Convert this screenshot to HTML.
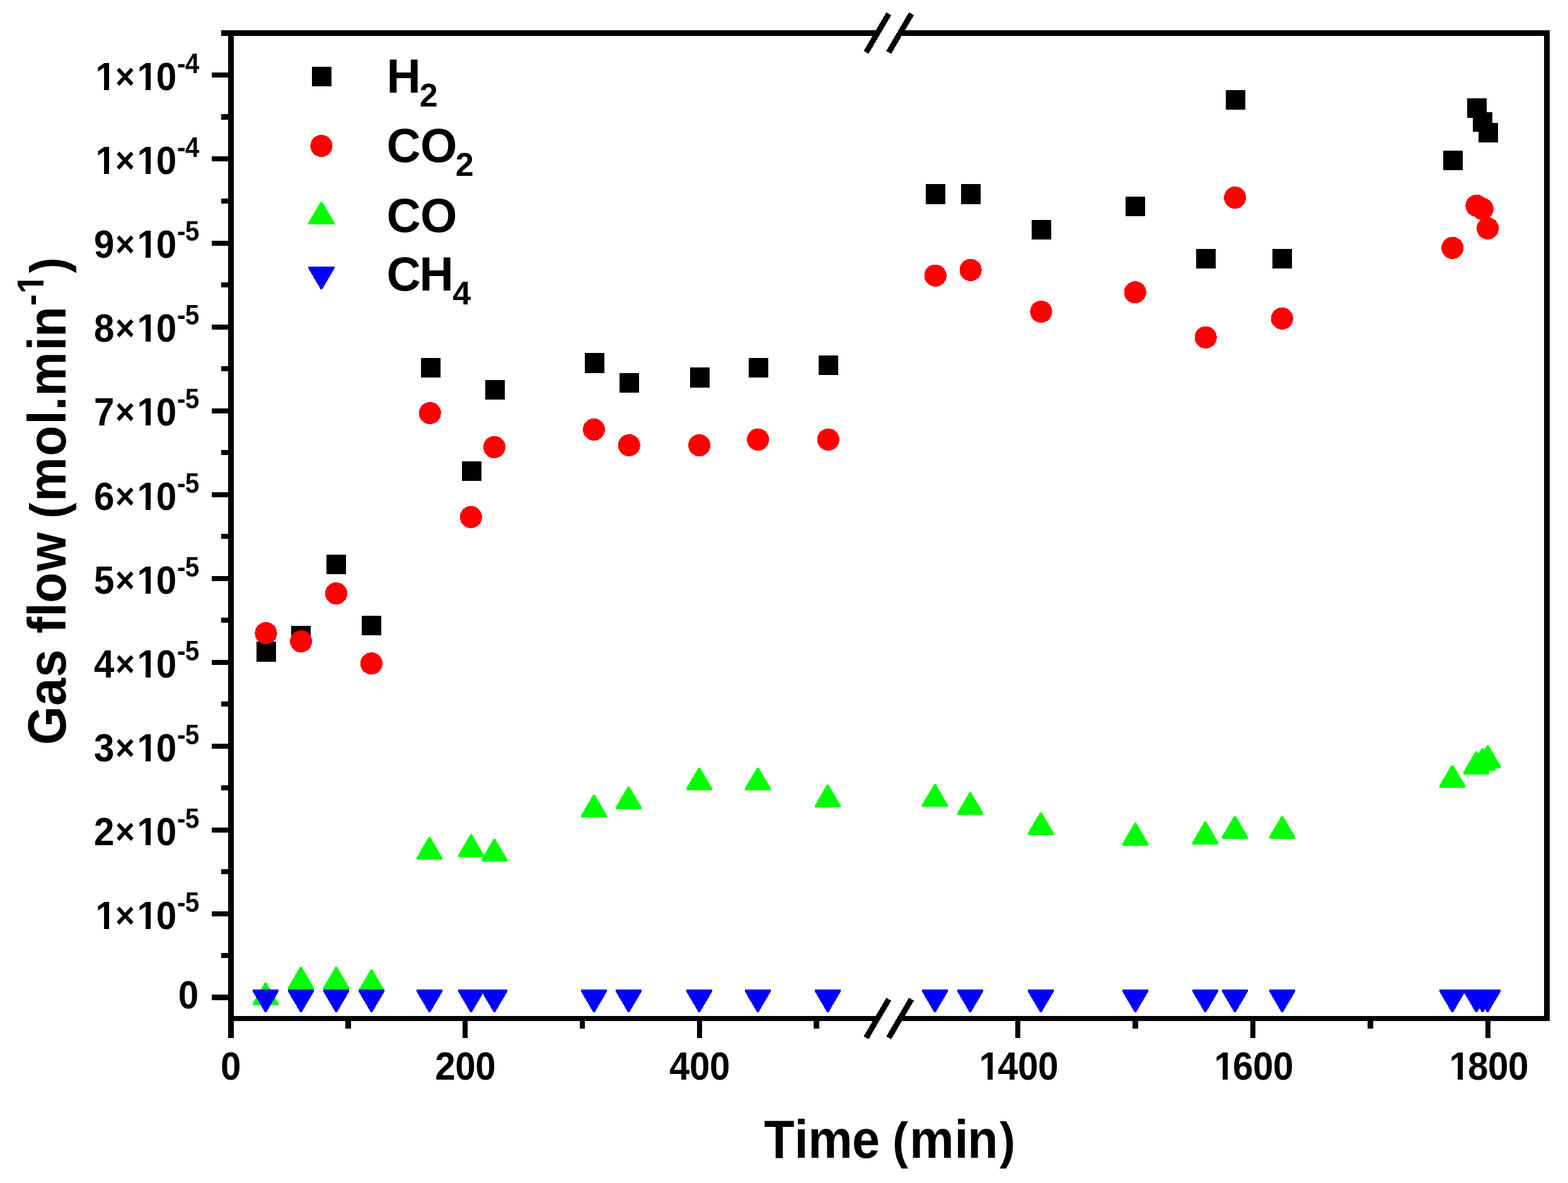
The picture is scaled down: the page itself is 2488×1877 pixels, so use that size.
<!DOCTYPE html>
<html lang="en"><head><meta charset="utf-8"><title>Gas flow vs time</title>
<style>
html,body{margin:0;padding:0;background:#fff}
body{width:2488px;height:1877px}
svg{display:block}
text{font-family:"Liberation Sans",sans-serif;font-weight:700;fill:#000;white-space:pre}
</style></head><body>
<svg width="2488" height="1877" viewBox="0 0 2488 1877" role="img" aria-label="Gas flow versus time">
<rect width="2488" height="1877" fill="#fff"/>
<g shape-rendering="crispEdges">
<rect x="362" y="48" width="9" height="1599" fill="#000"/>
<rect x="2450" y="48" width="9" height="1572" fill="#000"/>
<rect x="351" y="48" width="1041.3" height="9" fill="#000"/>
<rect x="1428.2" y="48" width="1030.8" height="9" fill="#000"/>
<rect x="362" y="1612" width="1030.3" height="8" fill="#000"/>
<rect x="1428.2" y="1612" width="1030.8" height="8" fill="#000"/>
<rect x="336" y="1578" width="26" height="9" fill="#000"/>
<rect x="336" y="1446" width="26" height="8" fill="#000"/>
<rect x="336" y="1313" width="26" height="8" fill="#000"/>
<rect x="336" y="1180" width="26" height="8" fill="#000"/>
<rect x="336" y="1047" width="26" height="8" fill="#000"/>
<rect x="336" y="914" width="26" height="8" fill="#000"/>
<rect x="336" y="781" width="26" height="8" fill="#000"/>
<rect x="336" y="648" width="26" height="8" fill="#000"/>
<rect x="336" y="515" width="26" height="8" fill="#000"/>
<rect x="336" y="382" width="26" height="8" fill="#000"/>
<rect x="336" y="248" width="26" height="8" fill="#000"/>
<rect x="336" y="115" width="26" height="8" fill="#000"/>
<rect x="351" y="1512" width="11" height="8" fill="#000"/>
<rect x="351" y="1379" width="11" height="8" fill="#000"/>
<rect x="351" y="1246" width="11" height="8" fill="#000"/>
<rect x="351" y="1113" width="11" height="8" fill="#000"/>
<rect x="351" y="980" width="11" height="8" fill="#000"/>
<rect x="351" y="847" width="11" height="8" fill="#000"/>
<rect x="351" y="714" width="11" height="8" fill="#000"/>
<rect x="351" y="581" width="11" height="8" fill="#000"/>
<rect x="351" y="448" width="11" height="8" fill="#000"/>
<rect x="351" y="315" width="11" height="8" fill="#000"/>
<rect x="351" y="181" width="11" height="9" fill="#000"/>
<rect x="734" y="1620" width="8" height="27" fill="#000"/>
<rect x="1106" y="1620" width="8" height="27" fill="#000"/>
<rect x="1611" y="1620" width="8" height="27" fill="#000"/>
<rect x="1984" y="1620" width="8" height="27" fill="#000"/>
<rect x="2357" y="1620" width="8" height="27" fill="#000"/>
<rect x="548" y="1620" width="9" height="12" fill="#000"/>
<rect x="920" y="1620" width="8" height="12" fill="#000"/>
<rect x="1291" y="1620" width="9" height="12" fill="#000"/>
<rect x="1797" y="1620" width="9" height="12" fill="#000"/>
<rect x="2170" y="1620" width="9" height="12" fill="#000"/>
</g>
<line x1="1374.3" y1="83.1" x2="1410.3" y2="21.9" stroke="#000" stroke-width="9" shape-rendering="crispEdges"/>
<line x1="1410.2" y1="83.1" x2="1446.2" y2="21.9" stroke="#000" stroke-width="9" shape-rendering="crispEdges"/>
<line x1="1374.3" y1="1646.6" x2="1410.3" y2="1585.4" stroke="#000" stroke-width="9" shape-rendering="crispEdges"/>
<line x1="1410.2" y1="1646.6" x2="1446.2" y2="1585.4" stroke="#000" stroke-width="9" shape-rendering="crispEdges"/>
<g fill="#000" shape-rendering="crispEdges">
<rect x="407" y="1018" width="31" height="32"/>
<rect x="462" y="993" width="31" height="31"/>
<rect x="518" y="880" width="31" height="31"/>
<rect x="574" y="977" width="31" height="31"/>
<rect x="668" y="568" width="31" height="31"/>
<rect x="733" y="732" width="31" height="31"/>
<rect x="770" y="603" width="31" height="31"/>
<rect x="928" y="560" width="31" height="32"/>
<rect x="983" y="592" width="31" height="31"/>
<rect x="1095" y="583" width="31" height="32"/>
<rect x="1188" y="568" width="31" height="31"/>
<rect x="1299" y="564" width="31" height="31"/>
<rect x="1469" y="292" width="31" height="32"/>
<rect x="1525" y="292" width="31" height="32"/>
<rect x="1637" y="349" width="31" height="31"/>
<rect x="1786" y="312" width="31" height="31"/>
<rect x="1898" y="395" width="31" height="31"/>
<rect x="1945" y="143" width="31" height="31"/>
<rect x="2019" y="395" width="31" height="31"/>
<rect x="2290" y="239" width="31" height="31"/>
<rect x="2328" y="156" width="31" height="31"/>
<rect x="2337" y="178" width="31" height="31"/>
<rect x="2346" y="195" width="31" height="31"/>
</g><g fill="#f00" shape-rendering="crispEdges">
<circle cx="422.0" cy="1004.6" r="17.6"/>
<circle cx="477.7" cy="1017.6" r="17.6"/>
<circle cx="533.5" cy="941.6" r="17.6"/>
<circle cx="589.3" cy="1052.7" r="17.6"/>
<circle cx="682.2" cy="655.4" r="17.6"/>
<circle cx="747.3" cy="820.4" r="17.6"/>
<circle cx="784.4" cy="709.4" r="17.6"/>
<circle cx="942.4" cy="681.5" r="17.6"/>
<circle cx="998.2" cy="706.5" r="17.6"/>
<circle cx="1109.7" cy="706.5" r="17.6"/>
<circle cx="1202.7" cy="697.4" r="17.6"/>
<circle cx="1314.2" cy="697.4" r="17.6"/>
<circle cx="1484.2" cy="437.2" r="17.6"/>
<circle cx="1540.1" cy="428.4" r="17.6"/>
<circle cx="1652.0" cy="494.5" r="17.6"/>
<circle cx="1801.2" cy="463.8" r="17.6"/>
<circle cx="1913.1" cy="535.3" r="17.6"/>
<circle cx="1959.7" cy="313.5" r="17.6"/>
<circle cx="2034.3" cy="505.3" r="17.6"/>
<circle cx="2304.8" cy="393.3" r="17.6"/>
<circle cx="2343.0" cy="326.4" r="17.6"/>
<circle cx="2352.3" cy="331.5" r="17.6"/>
<circle cx="2360.7" cy="362.3" r="17.6"/>
</g><g shape-rendering="crispEdges">
<path d="M400.9 1595.3L400.9 1592.0L420.3 1559.0L422.7 1559.0L442.1 1592.0L442.1 1595.3Z" fill="#0f0"/>
<path d="M456.9 1570.3L456.9 1567.0L476.3 1534.0L478.7 1534.0L498.1 1567.0L498.1 1570.3Z" fill="#0f0"/>
<path d="M512.9 1570.3L512.9 1567.0L532.3 1534.0L534.7 1534.0L554.1 1567.0L554.1 1570.3Z" fill="#0f0"/>
<path d="M568.9 1574.3L568.9 1571.0L588.3 1538.0L590.7 1538.0L610.1 1571.0L610.1 1574.3Z" fill="#0f0"/>
<path d="M660.9 1364.3L660.9 1361.0L680.3 1328.0L682.7 1328.0L702.1 1361.0L702.1 1364.3Z" fill="#0f0"/>
<path d="M726.9 1360.3L726.9 1357.0L746.3 1324.0L748.7 1324.0L768.1 1357.0L768.1 1360.3Z" fill="#0f0"/>
<path d="M763.9 1367.1L763.9 1363.8L783.3 1330.8L785.7 1330.8L805.1 1363.8L805.1 1367.1Z" fill="#0f0"/>
<path d="M921.9 1297.0L921.9 1293.7L941.3 1260.7L943.7 1260.7L963.1 1293.7L963.1 1297.0Z" fill="#0f0"/>
<path d="M976.9 1284.1L976.9 1280.8L996.3 1247.8L998.7 1247.8L1018.1 1280.8L1018.1 1284.1Z" fill="#0f0"/>
<path d="M1088.9 1254.2L1088.9 1250.9L1108.3 1217.9L1110.7 1217.9L1130.1 1250.9L1130.1 1254.2Z" fill="#0f0"/>
<path d="M1181.9 1254.2L1181.9 1250.9L1201.3 1217.9L1203.7 1217.9L1223.1 1250.9L1223.1 1254.2Z" fill="#0f0"/>
<path d="M1292.9 1281.3L1292.9 1278.0L1312.3 1245.0L1314.7 1245.0L1334.1 1278.0L1334.1 1281.3Z" fill="#0f0"/>
<path d="M1462.9 1280.3L1462.9 1277.0L1482.3 1244.0L1484.7 1244.0L1504.1 1277.0L1504.1 1280.3Z" fill="#0f0"/>
<path d="M1518.9 1293.2L1518.9 1289.9L1538.3 1256.9L1540.7 1256.9L1560.1 1289.9L1560.1 1293.2Z" fill="#0f0"/>
<path d="M1630.9 1325.1L1630.9 1321.8L1650.3 1288.8L1652.7 1288.8L1672.1 1321.8L1672.1 1325.1Z" fill="#0f0"/>
<path d="M1780.9 1341.7L1780.9 1338.4L1800.3 1305.4L1802.7 1305.4L1822.1 1338.4L1822.1 1341.7Z" fill="#0f0"/>
<path d="M1891.9 1339.6L1891.9 1336.3L1911.3 1303.3L1913.7 1303.3L1933.1 1336.3L1933.1 1339.6Z" fill="#0f0"/>
<path d="M1938.9 1330.8L1938.9 1327.5L1958.3 1294.5L1960.7 1294.5L1980.1 1327.5L1980.1 1330.8Z" fill="#0f0"/>
<path d="M2013.9 1330.8L2013.9 1327.5L2033.3 1294.5L2035.7 1294.5L2055.1 1327.5L2055.1 1330.8Z" fill="#0f0"/>
<path d="M2283.9 1249.9L2283.9 1246.6L2303.3 1213.6L2305.7 1213.6L2325.1 1246.6L2325.1 1249.9Z" fill="#0f0"/>
<path d="M2321.9 1228.6L2321.9 1225.3L2341.3 1192.3L2343.7 1192.3L2363.1 1225.3L2363.1 1228.6Z" fill="#0f0"/>
<path d="M2331.9 1222.9L2331.9 1219.6L2351.3 1186.6L2353.7 1186.6L2373.1 1219.6L2373.1 1222.9Z" fill="#0f0"/>
<path d="M2339.9 1218.5L2339.9 1215.2L2359.3 1182.2L2361.7 1182.2L2381.1 1215.2L2381.1 1218.5Z" fill="#0f0"/>
<path d="M400.9 1569.7L400.9 1573.0L420.3 1606.0L422.7 1606.0L442.1 1573.0L442.1 1569.7Z" fill="#00f"/>
<path d="M456.9 1569.7L456.9 1573.0L476.3 1606.0L478.7 1606.0L498.1 1573.0L498.1 1569.7Z" fill="#00f"/>
<path d="M512.9 1569.7L512.9 1573.0L532.3 1606.0L534.7 1606.0L554.1 1573.0L554.1 1569.7Z" fill="#00f"/>
<path d="M568.9 1569.7L568.9 1573.0L588.3 1606.0L590.7 1606.0L610.1 1573.0L610.1 1569.7Z" fill="#00f"/>
<path d="M660.9 1569.7L660.9 1573.0L680.3 1606.0L682.7 1606.0L702.1 1573.0L702.1 1569.7Z" fill="#00f"/>
<path d="M726.9 1569.7L726.9 1573.0L746.3 1606.0L748.7 1606.0L768.1 1573.0L768.1 1569.7Z" fill="#00f"/>
<path d="M763.9 1569.7L763.9 1573.0L783.3 1606.0L785.7 1606.0L805.1 1573.0L805.1 1569.7Z" fill="#00f"/>
<path d="M921.9 1569.7L921.9 1573.0L941.3 1606.0L943.7 1606.0L963.1 1573.0L963.1 1569.7Z" fill="#00f"/>
<path d="M976.9 1569.7L976.9 1573.0L996.3 1606.0L998.7 1606.0L1018.1 1573.0L1018.1 1569.7Z" fill="#00f"/>
<path d="M1088.9 1569.7L1088.9 1573.0L1108.3 1606.0L1110.7 1606.0L1130.1 1573.0L1130.1 1569.7Z" fill="#00f"/>
<path d="M1181.9 1569.7L1181.9 1573.0L1201.3 1606.0L1203.7 1606.0L1223.1 1573.0L1223.1 1569.7Z" fill="#00f"/>
<path d="M1292.9 1569.7L1292.9 1573.0L1312.3 1606.0L1314.7 1606.0L1334.1 1573.0L1334.1 1569.7Z" fill="#00f"/>
<path d="M1462.9 1569.7L1462.9 1573.0L1482.3 1606.0L1484.7 1606.0L1504.1 1573.0L1504.1 1569.7Z" fill="#00f"/>
<path d="M1518.9 1569.7L1518.9 1573.0L1538.3 1606.0L1540.7 1606.0L1560.1 1573.0L1560.1 1569.7Z" fill="#00f"/>
<path d="M1630.9 1569.7L1630.9 1573.0L1650.3 1606.0L1652.7 1606.0L1672.1 1573.0L1672.1 1569.7Z" fill="#00f"/>
<path d="M1780.9 1569.7L1780.9 1573.0L1800.3 1606.0L1802.7 1606.0L1822.1 1573.0L1822.1 1569.7Z" fill="#00f"/>
<path d="M1891.9 1569.7L1891.9 1573.0L1911.3 1606.0L1913.7 1606.0L1933.1 1573.0L1933.1 1569.7Z" fill="#00f"/>
<path d="M1938.9 1569.7L1938.9 1573.0L1958.3 1606.0L1960.7 1606.0L1980.1 1573.0L1980.1 1569.7Z" fill="#00f"/>
<path d="M2013.9 1569.7L2013.9 1573.0L2033.3 1606.0L2035.7 1606.0L2055.1 1573.0L2055.1 1569.7Z" fill="#00f"/>
<path d="M2283.9 1569.7L2283.9 1573.0L2303.3 1606.0L2305.7 1606.0L2325.1 1573.0L2325.1 1569.7Z" fill="#00f"/>
<path d="M2321.9 1569.7L2321.9 1573.0L2341.3 1606.0L2343.7 1606.0L2363.1 1573.0L2363.1 1569.7Z" fill="#00f"/>
<path d="M2331.9 1569.7L2331.9 1573.0L2351.3 1606.0L2353.7 1606.0L2373.1 1573.0L2373.1 1569.7Z" fill="#00f"/>
<path d="M2339.9 1569.7L2339.9 1573.0L2359.3 1606.0L2361.7 1606.0L2381.1 1573.0L2381.1 1569.7Z" fill="#00f"/>
</g>
<text transform="translate(0 1600.3) scale(1 1.075)" font-size="58.33" x="282.85">0</text>
<text transform="translate(0 1474.0) scale(1 1.075)" font-size="58.33" x="151.39">1<tspan x="183.02" dy="-1.6" font-size="53">×</tspan><tspan x="217.39 247.8" dy="1.6">10</tspan><tspan x="281.1 293.7" dy="-25.12" font-size="40.5">-5</tspan></text>
<text transform="translate(0 1341.0) scale(1 1.075)" font-size="58.33" x="148.9">2<tspan x="183.02" dy="-1.6" font-size="53">×</tspan><tspan x="217.39 247.8" dy="1.6">10</tspan><tspan x="281.1 293.7" dy="-25.12" font-size="40.5">-5</tspan></text>
<text transform="translate(0 1208.0) scale(1 1.075)" font-size="58.33" x="148.9">3<tspan x="183.02" dy="-1.6" font-size="53">×</tspan><tspan x="217.39 247.8" dy="1.6">10</tspan><tspan x="281.1 293.7" dy="-25.12" font-size="40.5">-5</tspan></text>
<text transform="translate(0 1075.0) scale(1 1.075)" font-size="58.33" x="148.9">4<tspan x="183.02" dy="-1.6" font-size="53">×</tspan><tspan x="217.39 247.8" dy="1.6">10</tspan><tspan x="281.1 293.7" dy="-25.12" font-size="40.5">-5</tspan></text>
<text transform="translate(0 942.0) scale(1 1.075)" font-size="58.33" x="148.9">5<tspan x="183.02" dy="-1.6" font-size="53">×</tspan><tspan x="217.39 247.8" dy="1.6">10</tspan><tspan x="281.1 293.7" dy="-25.12" font-size="40.5">-5</tspan></text>
<text transform="translate(0 809.0) scale(1 1.075)" font-size="58.33" x="148.9">6<tspan x="183.02" dy="-1.6" font-size="53">×</tspan><tspan x="217.39 247.8" dy="1.6">10</tspan><tspan x="281.1 293.7" dy="-25.12" font-size="40.5">-5</tspan></text>
<text transform="translate(0 675.0) scale(1 1.075)" font-size="58.33" x="148.9">7<tspan x="183.02" dy="-1.6" font-size="53">×</tspan><tspan x="217.39 247.8" dy="1.6">10</tspan><tspan x="281.1 293.7" dy="-25.12" font-size="40.5">-5</tspan></text>
<text transform="translate(0 542.0) scale(1 1.075)" font-size="58.33" x="148.9">8<tspan x="183.02" dy="-1.6" font-size="53">×</tspan><tspan x="217.39 247.8" dy="1.6">10</tspan><tspan x="281.1 293.7" dy="-25.12" font-size="40.5">-5</tspan></text>
<text transform="translate(0 409.0) scale(1 1.075)" font-size="58.33" x="148.9">9<tspan x="183.02" dy="-1.6" font-size="53">×</tspan><tspan x="217.39 247.8" dy="1.6">10</tspan><tspan x="281.1 293.7" dy="-25.12" font-size="40.5">-5</tspan></text>
<text transform="translate(0 276.0) scale(1 1.075)" font-size="58.33" x="151.39">1<tspan x="183.02" dy="-1.6" font-size="53">×</tspan><tspan x="217.39 247.8" dy="1.6">10</tspan><tspan x="281.1 293.7" dy="-25.12" font-size="40.5">-4</tspan></text>
<text transform="translate(0 143.0) scale(1 1.075)" font-size="58.33" x="151.39">1<tspan x="183.02" dy="-1.6" font-size="53">×</tspan><tspan x="217.39 247.8" dy="1.6">10</tspan><tspan x="281.1 293.7" dy="-25.12" font-size="40.5">-4</tspan></text>
<text transform="translate(0 1713) scale(1 1.075)" font-size="58.33" x="350.1">0</text>
<text transform="translate(0 1713) scale(1 1.075)" font-size="58.33" x="690.26 722.26 754.26">200</text>
<text transform="translate(0 1713) scale(1 1.075)" font-size="58.33" x="1062.02 1094.02 1126.02">400</text>
<text transform="translate(0 1713) scale(1 1.075)" font-size="58.33" x="1553.39 1583 1615 1647">1400</text>
<text transform="translate(0 1713) scale(1 1.075)" font-size="58.33" x="1926.39 1956 1988 2020">1600</text>
<text transform="translate(0 1713) scale(1 1.075)" font-size="58.33" x="2299.39 2329 2361 2393">1800</text>
<text transform="translate(0 1837) scale(1 1.065)" font-size="79.17"><tspan x="1212.3 1260.54 1282.25 1352.09 1400">Time </tspan><tspan x="1416.02" font-size="75.3">(</tspan><tspan x="1443.2 1514.59 1535.17">min</tspan><tspan x="1585.9" font-size="75.3">)</tspan></text>
<text transform="translate(104 1200) rotate(-90) scale(1 1.065)" font-size="79.17"><tspan x="18.04 80.22 125.47 181 195.01 221.54 243.32 293.8 370">Gas flow </tspan><tspan x="377.17" font-size="75.3">(</tspan><tspan x="404.2 476.37 526.54 548.64 571.2 643.64 665.32">mol.min</tspan><tspan x="714.8 734.07" font-size="55.4" dy="-33">-1</tspan><tspan x="766.75" font-size="75.3" dy="33">)</tspan></text>
<rect x="495" y="106" width="31" height="31" fill="#000"/>
<g shape-rendering="crispEdges"><circle cx="510" cy="231.5" r="17.6" fill="#f00"/>
<path d="M489.4 356.3L489.4 353.0L508.8 320.0L511.2 320.0L530.6 353.0L530.6 356.3Z" fill="#0f0"/>
<path d="M489.4 422.7L489.4 426.0L508.8 459.0L511.2 459.0L530.6 426.0L530.6 422.7Z" fill="#00f"/>
</g>
<text transform="translate(0 147) scale(1 1.01)" font-size="75" x="613.41">H<tspan x="665.73" dy="21.8" font-size="52">2</tspan></text>
<text transform="translate(0 257) scale(1 1.01)" font-size="75" x="613.5 666.9">CO<tspan x="722.68" dy="21.8" font-size="52">2</tspan></text>
<text transform="translate(0 368) scale(1 1.01)" font-size="75" x="613.5 666.9">CO</text>
<text transform="translate(0 461) scale(1 1.01)" font-size="75" x="613.5 665.44">CH<tspan x="718.29" dy="21.8" font-size="52">4</tspan></text>
<g fill="#fff"><rect x="219.56" y="1466.10" width="11.44" height="9.40"/><rect x="239.00" y="1466.10" width="10.70" height="9.40"/><rect x="153.56" y="1466.10" width="11.44" height="9.40"/><rect x="173.00" y="1466.10" width="10.70" height="9.40"/><rect x="219.56" y="1333.10" width="11.44" height="9.40"/><rect x="239.00" y="1333.10" width="10.70" height="9.40"/><rect x="219.56" y="1200.10" width="11.44" height="9.40"/><rect x="239.00" y="1200.10" width="10.70" height="9.40"/><rect x="219.56" y="1067.10" width="11.44" height="9.40"/><rect x="239.00" y="1067.10" width="10.70" height="9.40"/><rect x="219.56" y="934.10" width="11.44" height="9.40"/><rect x="239.00" y="934.10" width="10.70" height="9.40"/><rect x="219.56" y="801.10" width="11.44" height="9.40"/><rect x="239.00" y="801.10" width="10.70" height="9.40"/><rect x="219.56" y="667.10" width="11.44" height="9.40"/><rect x="239.00" y="667.10" width="10.70" height="9.40"/><rect x="219.56" y="534.10" width="11.44" height="9.40"/><rect x="239.00" y="534.10" width="10.70" height="9.40"/><rect x="219.56" y="401.10" width="11.44" height="9.40"/><rect x="239.00" y="401.10" width="10.70" height="9.40"/><rect x="219.56" y="268.10" width="11.44" height="9.40"/><rect x="239.00" y="268.10" width="10.70" height="9.40"/><rect x="153.56" y="268.10" width="11.44" height="9.40"/><rect x="173.00" y="268.10" width="10.70" height="9.40"/><rect x="219.56" y="135.10" width="11.44" height="9.40"/><rect x="239.00" y="135.10" width="10.70" height="9.40"/><rect x="153.56" y="135.10" width="11.44" height="9.40"/><rect x="173.00" y="135.10" width="10.70" height="9.40"/><rect x="1555.56" y="1705.10" width="11.44" height="9.40"/><rect x="1575.00" y="1705.10" width="10.70" height="9.40"/><rect x="1928.56" y="1705.10" width="11.44" height="9.40"/><rect x="1948.00" y="1705.10" width="10.70" height="9.40"/><rect x="2301.56" y="1705.10" width="11.44" height="9.40"/><rect x="2321.00" y="1705.10" width="10.70" height="9.40"/><g transform="translate(104 1200) rotate(-90) scale(1 1.065)"><rect x="736.06" y="-40.15" width="10.94" height="8.65"/><rect x="754.60" y="-40.15" width="10.24" height="8.65"/></g></g>
</svg>
</body></html>
